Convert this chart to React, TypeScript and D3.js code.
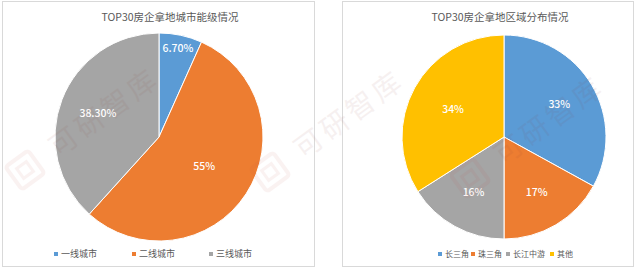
import React from "react";
import * as d3 from "d3";

const leftTitle = "TOP30房企拿地城市能级情况";
const leftCategories = ["一线城市", "二线城市", "三线城市"];
const leftValues = [6.7, 55, 38.3];
const leftLabels = ["6.70%", "55%", "38.30%"];
const leftColors = ["#5B9BD5", "#ED7D31", "#A5A5A5"];

const rightTitle = "TOP30房企拿地区域分布情况";
const rightCategories = ["长三角", "珠三角", "长江中游", "其他"];
const rightValues = [33, 17, 16, 34];
const rightLabels = ["33%", "17%", "16%", "34%"];
const rightColors = ["#5B9BD5", "#ED7D31", "#A5A5A5", "#FFC000"];

const FONT = "'Noto Sans CJK SC', 'Noto Sans', sans-serif";

type PieProps = {
  cx: number;
  cy: number;
  r: number;
  values: number[];
  labels: string[];
  colors: string[];
  labelFrac: number[];
};

function Pie({ cx, cy, r, values, labels, colors, labelFrac }: PieProps) {
  const pie = d3.pie<number>().sort(null).value((d) => d);
  const arcs = pie(values);
  const arc = d3.arc<d3.PieArcDatum<number>>().innerRadius(0).outerRadius(r);
  return (
    <g transform={`translate(${cx},${cy})`}>
      {arcs.map((a, i) => (
        <path key={i} d={arc(a) || ""} fill={colors[i]} stroke="#fff" strokeWidth={1} />
      ))}
      {arcs.map((a, i) => {
        const la = d3.arc<d3.PieArcDatum<number>>().innerRadius(0).outerRadius(r * labelFrac[i] * 2);
        const [x, y] = la.centroid(a);
        return (
          <text key={i} x={x} y={y} dy="0.35em" textAnchor="middle" fill="#fff"
            fontSize={10.5} fontWeight={500} fontFamily={FONT}>{labels[i]}</text>
        );
      })}
    </g>
  );
}

function Legend({ items, colors, xs, y, fontSize }: { items: string[]; colors: string[]; xs: number[]; y: number; fontSize: number }) {
  return (
    <g>
      {items.map((t, i) => (
        <g key={i}>
          <rect x={xs[i] - 2} y={y - 2} width={4} height={4} fill={colors[i]} />
          <text x={xs[i] + 5} y={y} dy="0.35em" fontSize={fontSize} fill="#595959" fontFamily={FONT}>{t}</text>
        </g>
      ))}
    </g>
  );
}

function Watermark({ x, y }: { x: number; y: number }) {
  return (
    <g transform={`translate(${x},${y}) rotate(-36)`} opacity={0.07}>
      <rect x={-14} y={-14} width={28} height={28} rx={3} fill="none" stroke="#c0504d" strokeWidth={4} />
      <rect x={-6} y={-6} width={12} height={12} fill="none" stroke="#c0504d" strokeWidth={3} />
      <text x={34} y={0} dy="0.35em" fontSize={28} fill="#8a3a38" fontFamily={FONT} letterSpacing={4}>可研智库</text>
    </g>
  );
}

export default function App() {
  return (
    <svg width={640} height={269} style={{ position: "absolute", left: 0, top: 0, background: "#fff" }}>
      <rect x={0} y={0} width={640} height={269} fill="#fff" />
      <rect x={2.5} y={1.5} width={312} height={265} fill="#fff" stroke="#d9d9d9" />
      <rect x={342.5} y={1.5} width={291} height={265} fill="#fff" stroke="#d9d9d9" />

      <text x={170} y={17} dy="0.35em" textAnchor="middle" fontSize={10.5} fill="#595959" fontFamily={FONT}>{leftTitle}</text>
      <Pie cx={159} cy={137} r={104} values={leftValues} labels={leftLabels} colors={leftColors} labelFrac={[0.87, 0.52, 0.63]} />
      <Legend items={leftCategories} colors={leftColors} xs={[56, 134, 211]} y={254} fontSize={9} />

      <text x={500} y={17} dy="0.35em" textAnchor="middle" fontSize={10.5} fill="#595959" fontFamily={FONT}>{rightTitle}</text>
      <Pie cx={504} cy={137} r={102} values={rightValues} labels={rightLabels} colors={rightColors} labelFrac={[0.63, 0.63, 0.62, 0.57]} />
      <Legend items={rightCategories} colors={rightColors} xs={[440, 473, 508, 552]} y={254} fontSize={8} />

      <Watermark x={25} y={170} />
      <Watermark x={270} y={172} />
      <Watermark x={470} y={178} />
    </svg>
  );
}
